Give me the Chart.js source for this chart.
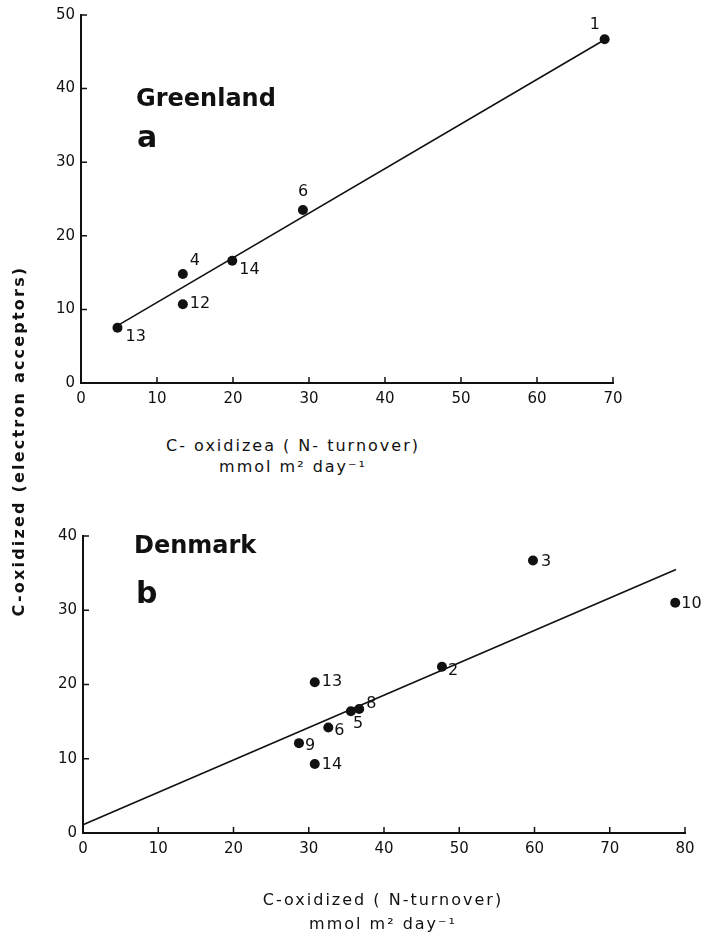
<!DOCTYPE html>
<html>
<head>
<meta charset="utf-8">
<title>C-oxidized Greenland / Denmark</title>
<script src="https://cdn.jsdelivr.net/npm/chart.js@4.4.1/dist/chart.umd.min.js"></script>
<style>
body { margin: 0; background: #fff; width: 702px; height: 936px; position: relative; overflow: hidden;
       font-family: "DejaVu Sans", sans-serif; color: #111; }
.box { position: absolute; left: 0; width: 702px; }
.txt { position: absolute; white-space: nowrap; line-height: 1; }
.xtitle { position: absolute; text-align: center; font-size: 16px; letter-spacing: 2px; white-space: nowrap; }
.place { font-size: 24px; font-weight: bold; }
.panel { font-size: 30px; font-weight: 900; }
#ytitle { position: absolute; left: -181px; top: 431px; width: 400px; height: 20px; line-height: 20px;
          text-align: center; font-size: 16px; font-weight: bold; letter-spacing: 2.2px;
          transform: rotate(-90deg); white-space: nowrap; }
</style>
</head>
<body>
<div class="box" style="top:0;height:410px"><canvas id="chartA"></canvas></div>
<div class="box" style="top:490px;height:400px"><canvas id="chartB"></canvas></div>

<div class="txt place" style="left:136px;top:86px">Greenland</div>
<div class="txt panel" style="left:137px;top:122px">a</div>
<div class="txt place" style="left:134px;top:533px">Denmark</div>
<div class="txt panel" style="left:136px;top:578px">b</div>

<div class="xtitle" style="left:143px;top:435px;width:300px;line-height:21px">C- oxidizea ( N- turnover)<br>mmol m² day⁻¹</div>
<div class="xtitle" style="left:233px;top:888px;width:300px;line-height:24px">C-oxidized ( N-turnover)<br>mmol m² day⁻¹</div>
<div id="ytitle">C-oxidized (electron acceptors)</div>

<script>
// panel a - Greenland stations
var greenlandStations = ['1', '6', '4', '12', '14', '13'];
var greenlandX = [68.9, 29.2, 13.4, 13.4, 19.9, 4.8];
var greenlandY = [46.7, 23.5, 14.8, 10.7, 16.6, 7.5];
var greenlandLineX = [4.8, 69.0];
var greenlandLineY = [7.8, 46.7];

// panel b - Denmark stations
var denmarkStations = ['3', '10', '2', '13', '8', '5', '6', '9', '14'];
var denmarkX = [59.8, 78.7, 47.7, 30.8, 36.7, 35.6, 32.6, 28.7, 30.8];
var denmarkY = [36.7, 31.0, 22.4, 20.3, 16.7, 16.4, 14.2, 12.1, 9.3];
var denmarkLineX = [0, 78.8];
var denmarkLineY = [1.1, 35.5];

var ink = '#111';

function toPoints(xs, ys) {
	return xs.map(function(x, i) { return { x: x, y: ys[i] }; });
}

// station numbers next to the dots
var pointLabels = {
	id: 'pointLabels',
	afterDatasetsDraw: function(chart, args, opts) {
		var ctx = chart.ctx;
		var meta = chart.getDatasetMeta(0);
		ctx.save();
		ctx.font = '16px "DejaVu Sans"';
		ctx.fillStyle = ink;
		ctx.textBaseline = 'middle';
		ctx.textAlign = 'left';
		meta.data.forEach(function(pt, i) {
			var off = opts.offsets[i];
			ctx.fillText(opts.labels[i], pt.x + off[0], pt.y + off[1]);
		});
		ctx.restore();
	}
};

// tick marks point into the plot
var innerTicks = {
	id: 'innerTicks',
	afterDraw: function(chart) {
		var ctx = chart.ctx, a = chart.chartArea;
		var xs = chart.scales.x, ys = chart.scales.y;
		ctx.save();
		ctx.strokeStyle = ink;
		ctx.lineWidth = 1.5;
		ctx.beginPath();
		xs.ticks.forEach(function(t) {
			var px = xs.getPixelForValue(t.value);
			ctx.moveTo(px, a.bottom);
			ctx.lineTo(px, a.bottom - 6);
		});
		ys.ticks.forEach(function(t) {
			var py = ys.getPixelForValue(t.value);
			ctx.moveTo(a.left, py);
			ctx.lineTo(a.left + 6, py);
		});
		ctx.stroke();
		ctx.restore();
	}
};

function axis(max, size, pad, horizontal) {
	return {
		type: 'linear',
		min: 0,
		max: max,
		ticks: { stepSize: 10, color: ink, padding: pad, font: { family: 'DejaVu Sans', size: 15 } },
		grid: { display: false, drawTicks: false },
		border: { display: true, color: ink, width: 2 },
		afterFit: function(scale) {
			if (horizontal) scale.height = size; else scale.width = size;
		}
	};
}

function makeChart(id, pts, line, xMax, yMax, yWidth, xHeight, padding, labels, offsets) {
	return new Chart(document.getElementById(id), {
		type: 'scatter',
		data: {
			datasets: [
				{
					data: pts,
					backgroundColor: ink,
					borderWidth: 0,
					pointRadius: 5,
					clip: false
				},
				{
					data: line,
					showLine: true,
					borderColor: ink,
					borderWidth: 1.6,
					pointRadius: 0,
					clip: false
				}
			]
		},
		options: {
			responsive: true,
			maintainAspectRatio: false,
			animation: false,
			layout: { padding: padding },
			scales: {
				x: axis(xMax, xHeight, 7, true),
				y: axis(yMax, yWidth, 6, false)
			},
			plugins: {
				legend: { display: false },
				tooltip: { enabled: false },
				pointLabels: { labels: labels, offsets: offsets }
			}
		},
		plugins: [pointLabels, innerTicks]
	});
}

makeChart('chartA',
	toPoints(greenlandX, greenlandY),
	toPoints(greenlandLineX, greenlandLineY),
	70, 50, 81, 27,
	{ top: 12, right: 89, left: 0, bottom: 0 },
	greenlandStations,
	[[-15, -14], [-5, -18], [7, -13], [7, 0], [7, 9], [8, 9]]);

makeChart('chartB',
	toPoints(denmarkX, denmarkY),
	toPoints(denmarkLineX, denmarkLineY),
	80, 40, 83, 57,
	{ top: 46, right: 17, left: 0, bottom: 0 },
	denmarkStations,
	[[8, 1], [6, 1], [6, 4], [7, 0], [7, -5], [2, 13], [6, 3], [6, 3], [7, 1]]);
</script>
</body>
</html>
